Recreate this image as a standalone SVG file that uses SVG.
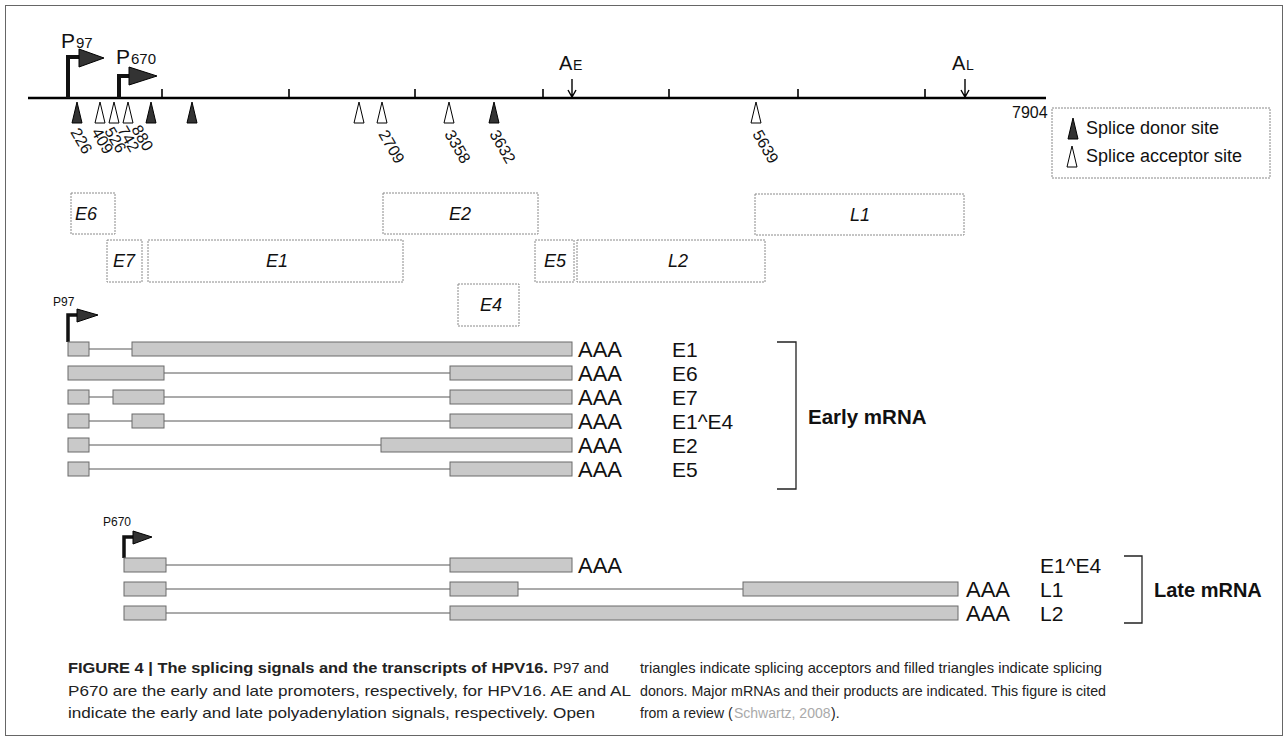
<svg xmlns="http://www.w3.org/2000/svg" width="1288" height="740" viewBox="0 0 1288 740">
<style>
text{font-family:"Liberation Sans",Arial,sans-serif;fill:#111}
.num{font-size:16px}
.orf rect{fill:#fff;stroke:#8a8a8a;stroke-width:1;stroke-dasharray:2 1}
.orf text{font-size:18px;font-style:italic;text-anchor:middle}
.ex{fill:#c9c9c9;stroke:#6a6a6a;stroke-width:1}
.intr{stroke:#444;stroke-width:0.9}
.aaa{font-size:22px}
.lab{font-size:21px}
.don{fill:#333;stroke:#000;stroke-width:1}
.acc{fill:#fff;stroke:#000;stroke-width:1}
.tick{stroke:#000;stroke-width:1.6}
.brk{fill:none;stroke:#222;stroke-width:1.3}
.cap{font-size:15px;fill:#222}
.cap14{font-size:14px;fill:#222}
.prom{fill:none;stroke:#111;stroke-width:4}
.promh{fill:#333;stroke:#000;stroke-width:1}
.poly{stroke:#000;stroke-width:1.4;fill:none}
</style>
<defs>
<polygon id="tri" points="-5,0 5,0 0,-21"/>
<polygon id="ltri" points="-5,0 5,0 0,-21"/>
</defs>
<rect x="5.5" y="5.5" width="1277" height="730" fill="none" stroke="#666" stroke-width="1"/>

<g id="genome">
<line x1="28" y1="98" x2="1046" y2="98" stroke="#000" stroke-width="2.5"/>
<line class="tick" x1="162" y1="89" x2="162" y2="98"/>
<line class="tick" x1="289" y1="89" x2="289" y2="98"/>
<line class="tick" x1="415" y1="89" x2="415" y2="98"/>
<line class="tick" x1="543" y1="89" x2="543" y2="98"/>
<line class="tick" x1="669" y1="89" x2="669" y2="98"/>
<line class="tick" x1="798" y1="89" x2="798" y2="98"/>
<line class="tick" x1="925" y1="89" x2="925" y2="98"/>
<text class="num" x="1012" y="118">7904</text>
</g>

<g id="p97">
<path class="prom" d="M68,98 V57 H80"/>
<polygon class="promh" points="79,49 79,67 104,58"/>
<text x="61" y="48" font-size="21">P</text><text x="76" y="48" font-size="15">97</text>
</g>
<g id="p670">
<path class="prom" d="M119,98 V76 H130"/>
<polygon class="promh" points="129,67 129,85 157,76"/>
<text x="116" y="64" font-size="21">P</text><text x="131" y="64" font-size="15">670</text>
</g>
<g id="AE">
<path class="poly" d="M572,79 V97 M568,90 L572,97 L576,90"/>
<text x="559" y="70" font-size="20">A</text><text x="573" y="70" font-size="14">E</text>
</g>
<g id="AL">
<path class="poly" d="M965,79 V97 M961,90 L965,97 L969,90"/>
<text x="952" y="70" font-size="20">A</text><text x="966" y="70" font-size="14">L</text>
</g>

<g id="sites">
<use href="#tri" x="77" y="123" class="don"/>
<use href="#tri" x="100" y="123" class="acc"/>
<use href="#tri" x="114" y="123" class="acc"/>
<use href="#tri" x="128" y="123" class="acc"/>
<use href="#tri" x="151" y="123" class="don"/>
<use href="#tri" x="192" y="123" class="don"/>
<use href="#tri" x="359" y="123" class="acc"/>
<use href="#tri" x="382" y="123" class="acc"/>
<use href="#tri" x="449" y="123" class="acc"/>
<use href="#tri" x="494" y="123" class="don"/>
<use href="#tri" x="756" y="123" class="acc"/>
<text class="num" transform="translate(70,132) rotate(60)">226</text>
<text class="num" transform="translate(91,132) rotate(60)">409</text>
<text class="num" transform="translate(104,131) rotate(60)">526</text>
<text class="num" transform="translate(117,130) rotate(60)">742</text>
<text class="num" transform="translate(131,129) rotate(60)">880</text>
<text class="num" transform="translate(378,134) rotate(60)">2709</text>
<text class="num" transform="translate(444,134) rotate(60)">3358</text>
<text class="num" transform="translate(489,134) rotate(60)">3632</text>
<text class="num" transform="translate(752,134) rotate(60)">5639</text>
</g>

<g id="legend">
<rect x="1052" y="108" width="218" height="70" fill="#fff" stroke="#888" stroke-width="1" stroke-dasharray="2 1"/>
<use href="#ltri" x="1073" y="139" class="don"/>
<text x="1086" y="134" font-size="18">Splice donor site</text>
<use href="#ltri" x="1072" y="167" class="acc"/>
<text x="1086" y="162" font-size="18">Splice acceptor site</text>
</g>

<g id="orf-E6" class="orf"><rect x="71" y="193" width="44" height="41"/><text x="86" y="220">E6</text></g>
<g id="orf-E2" class="orf"><rect x="383" y="193" width="155" height="41"/><text x="460" y="220">E2</text></g>
<g id="orf-L1" class="orf"><rect x="755" y="194" width="209" height="41"/><text x="860" y="221">L1</text></g>
<g id="orf-E7" class="orf"><rect x="107" y="240" width="35" height="42"/><text x="124" y="267">E7</text></g>
<g id="orf-E1" class="orf"><rect x="148" y="240" width="255" height="42"/><text x="277" y="267">E1</text></g>
<g id="orf-E5" class="orf"><rect x="535" y="240" width="39" height="42"/><text x="555" y="267">E5</text></g>
<g id="orf-L2" class="orf"><rect x="577" y="240" width="188" height="42"/><text x="678" y="267">L2</text></g>
<g id="orf-E4" class="orf"><rect x="458" y="284" width="61" height="42"/><text x="491" y="311">E4</text></g>

<g id="early-promoter">
<text x="53" y="306" font-size="12">P97</text>
<path d="M68,342 V315 H78" fill="none" stroke="#111" stroke-width="3.5"/>
<polygon class="promh" points="77,309 77,322 98,315"/>
</g>

<g id="connectors">
<line class="intr" x1="89" y1="349" x2="132" y2="349"/>
<line class="intr" x1="164" y1="373" x2="450" y2="373"/>
<line class="intr" x1="89" y1="397" x2="113" y2="397"/>
<line class="intr" x1="164" y1="397" x2="450" y2="397"/>
<line class="intr" x1="89" y1="421" x2="132" y2="421"/>
<line class="intr" x1="164" y1="421" x2="450" y2="421"/>
<line class="intr" x1="89" y1="445" x2="381" y2="445"/>
<line class="intr" x1="89" y1="469" x2="450" y2="469"/>
<line class="intr" x1="166" y1="565" x2="450" y2="565"/>
<line class="intr" x1="166" y1="589" x2="450" y2="589"/>
<line class="intr" x1="518" y1="589" x2="743" y2="589"/>
<line class="intr" x1="166" y1="613" x2="450" y2="613"/>
</g>

<g id="mrna-E1">
<rect class="ex" x="68" y="342" width="21" height="14"/>
<rect class="ex" x="132" y="342" width="440" height="14"/>
<text class="aaa" x="578" y="357">AAA</text><text class="lab" x="672" y="357">E1</text>
</g>
<g id="mrna-E6">
<rect class="ex" x="68" y="366" width="96" height="14"/>
<rect class="ex" x="450" y="366" width="122" height="14"/>
<text class="aaa" x="578" y="381">AAA</text><text class="lab" x="672" y="381">E6</text>
</g>
<g id="mrna-E7">
<rect class="ex" x="68" y="390" width="21" height="14"/>
<rect class="ex" x="113" y="390" width="51" height="14"/>
<rect class="ex" x="450" y="390" width="122" height="14"/>
<text class="aaa" x="578" y="405">AAA</text><text class="lab" x="672" y="405">E7</text>
</g>
<g id="mrna-E1E4">
<rect class="ex" x="68" y="414" width="21" height="14"/>
<rect class="ex" x="132" y="414" width="32" height="14"/>
<rect class="ex" x="450" y="414" width="122" height="14"/>
<text class="aaa" x="578" y="429">AAA</text><text class="lab" x="672" y="429">E1^E4</text>
</g>
<g id="mrna-E2">
<rect class="ex" x="68" y="438" width="21" height="14"/>
<rect class="ex" x="381" y="438" width="191" height="14"/>
<text class="aaa" x="578" y="453">AAA</text><text class="lab" x="672" y="453">E2</text>
</g>
<g id="mrna-E5">
<rect class="ex" x="68" y="462" width="21" height="14"/>
<rect class="ex" x="450" y="462" width="122" height="14"/>
<text class="aaa" x="578" y="477">AAA</text><text class="lab" x="672" y="477">E5</text>
</g>
<g id="early-bracket">
<path class="brk" d="M777,342 H796 V489 H777"/>
<text x="808" y="424" font-size="20.5" font-weight="bold">Early mRNA</text>
</g>

<g id="late-promoter">
<text x="103" y="526" font-size="12">P670</text>
<path d="M124,558 V537 H134" fill="none" stroke="#111" stroke-width="3.5"/>
<polygon class="promh" points="133,531 133,544 152,537"/>
</g>
<g id="late-E1E4">
<rect class="ex" x="124" y="558" width="42" height="14"/>
<rect class="ex" x="450" y="558" width="122" height="14"/>
<text class="aaa" x="578" y="573">AAA</text><text class="lab" x="1040" y="573">E1^E4</text>
</g>
<g id="late-L1">
<rect class="ex" x="124" y="582" width="42" height="14"/>
<rect class="ex" x="450" y="582" width="68" height="14"/>
<rect class="ex" x="743" y="582" width="215" height="14"/>
<text class="aaa" x="966" y="597">AAA</text><text class="lab" x="1040" y="597">L1</text>
</g>
<g id="late-L2">
<rect class="ex" x="124" y="606" width="42" height="14"/>
<rect class="ex" x="450" y="606" width="508" height="14"/>
<text class="aaa" x="966" y="621">AAA</text><text class="lab" x="1040" y="621">L2</text>
</g>
<g id="late-bracket">
<path class="brk" d="M1124,556 H1142 V623 H1124"/>
<text x="1154" y="597" font-size="20" font-weight="bold">Late mRNA</text>
</g>

<g id="caption">
<text class="cap" x="68" y="673" font-weight="bold" textLength="480" lengthAdjust="spacingAndGlyphs">FIGURE 4 | The splicing signals and the transcripts of HPV16.</text>
<text class="cap" x="553" y="673">P97 and</text>
<text class="cap" x="68" y="696" textLength="563" lengthAdjust="spacingAndGlyphs">P670 are the early and late promoters, respectively, for HPV16. AE and AL</text>
<text class="cap" x="68" y="718" textLength="527" lengthAdjust="spacingAndGlyphs">indicate the early and late polyadenylation signals, respectively. Open</text>
<text class="cap" x="640" y="673" textLength="462" lengthAdjust="spacingAndGlyphs">triangles indicate splicing acceptors and filled triangles indicate splicing</text>
<text class="cap" x="640" y="696" textLength="466" lengthAdjust="spacingAndGlyphs">donors. Major mRNAs and their products are indicated. This figure is cited</text>
<text class="cap14" x="640" y="718">from a review (</text>
<text class="cap14" x="734" y="718" style="fill:#aaa">Schwartz, 2008</text>
<text class="cap14" x="831" y="718">).</text>
</g>
</svg>
